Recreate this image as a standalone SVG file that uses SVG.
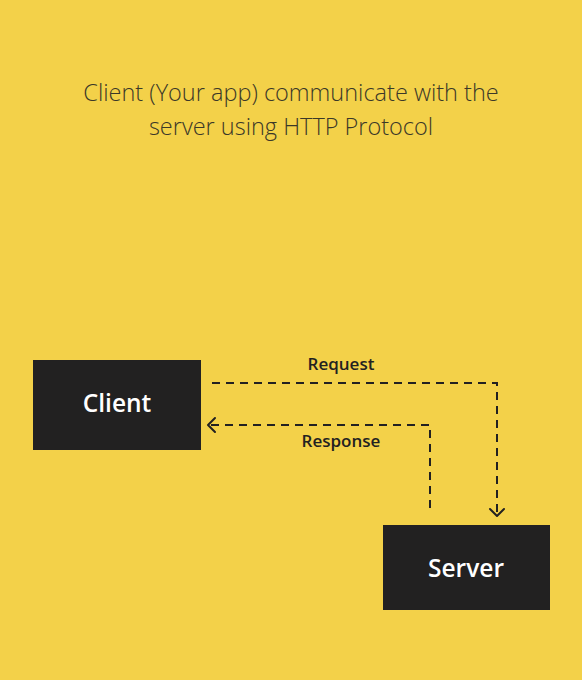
<svg xmlns="http://www.w3.org/2000/svg" width="582" height="680" viewBox="0 0 582 680">
<defs>
<style>
.title{font-family:"Open Sans","Liberation Sans",sans-serif;font-size:23.5px;fill:#3b3828;text-anchor:middle;font-weight:300}
.box{fill:#222121}
.nlabel{font-family:"Open Sans","Liberation Sans",sans-serif;font-size:24.5px;fill:#ffffff;text-anchor:middle;font-weight:600}
.elabel{font-family:"Open Sans","Liberation Sans",sans-serif;font-size:17px;fill:#222121;text-anchor:middle;font-weight:600}
.conn{fill:none;stroke:#222121;stroke-width:2;stroke-dasharray:8 6}
.head{fill:none;stroke:#222121;stroke-width:2;stroke-linecap:round;stroke-linejoin:round}
</style>
</defs>
<rect width="582" height="680" fill="#F3D149"/>
<text class="title" x="291" y="101">Client (Your app) communicate with the</text>
<text class="title" x="291" y="135">server using HTTP Protocol</text>
<g id="client">
<rect class="box" x="33" y="360" width="168" height="90"/>
<text class="nlabel" x="117" y="412">Client</text>
</g>
<g id="server">
<rect class="box" x="383" y="525" width="167" height="85"/>
<text class="nlabel" x="466" y="577">Server</text>
</g>
<g id="connectors">
<path class="conn" d="M212 383 H497 V516"/>
<path class="head" d="M490 509 L497 516 L504 509"/>
<text class="elabel" x="341" y="370">Request</text>
<path class="conn" d="M430 508 V425 H209"/>
<path class="head" d="M215 418 L208 425 L215 432"/>
<text class="elabel" x="341" y="447">Response</text>
</g>
</svg>
